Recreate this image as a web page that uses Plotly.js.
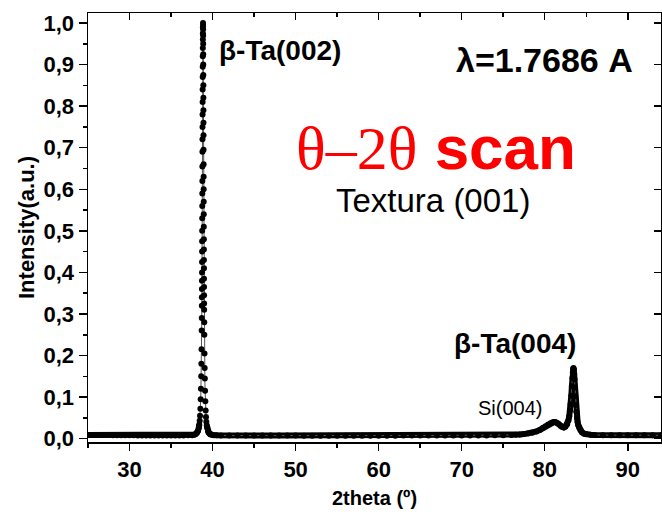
<!DOCTYPE html>
<html>
<head>
<meta charset="utf-8">
<script src="https://cdn.plot.ly/plotly-3.0.1.min.js"></script>
<style>html,body{margin:0;padding:0;background:#fff;}#plot{width:662px;height:516px;}</style>
</head>
<body>
<div id="plot"></div>
<script>
// 2theta (deg)
var twoTheta = [
 25,25.5,26,26.5,27,27.5,28,28.5,29,29.5,30,30.5,31,31.5,32,32.5,33,33.5,34,34.5,35,35.5,36,36.5,37.05,37.55,37.85,38.0,38.15,38.25,38.35,38.4,38.45,38.49,38.53,38.57,38.6,38.63,38.65,38.67,38.69,38.70,38.71,38.715,38.72,38.725,38.73,38.735,38.74,38.745,38.75,38.755,38.76,38.765,38.77,38.775,38.78,38.785,38.79,38.795,38.80,38.805,38.81,38.815,38.82,38.825,38.83,38.835,38.84,38.85,
 38.855,38.86,38.865,38.87,38.875,38.88,38.885,38.89,38.895,38.90,38.905,38.91,38.915,38.92,38.925,38.93,38.935,38.94,38.945,38.95,38.955,38.96,38.965,38.97,38.975,38.98,38.985,38.99,39.0,39.01,39.03,39.05,39.07,39.10,39.13,39.17,39.21,39.25,39.30,39.35,39.45,39.55,39.70,39.85,40.15,40.5,
 41,42,43,44,45,46,47,48,49,50,51,52,53,54,55,56,57,58,59,60,61,62,63,64,65,66,67,68,69,70,71,72,73,74,75,
 76,76.5,77,77.5,78,78.5,79,79.4,79.8,80.1,80.4,80.7,80.9,81.1,81.3,81.5,81.7,81.9,82.1,82.3,82.5,82.7,82.85,82.95,83.05,83.12,83.2,83.27,83.33,83.38,83.42,83.46,83.5,83.54,83.58,83.63,83.68,83.74,83.8,83.88,83.96,84.05,84.15,84.3,84.5,84.75,85.0,85.5,86,87,88,89,90,91,92,93,94
];
// normalised intensity (a.u.)
var intensity = [
 0.0090,0.0090,0.0089,0.0088,0.0087,0.0086,0.0085,0.0084,0.0083,0.0082,0.0081,0.0080,0.0079,0.0078,0.0077,0.0076,0.0075,0.0075,0.0074,0.0074,0.0074,0.0075,0.0077,0.0079,0.0080,0.0085,0.010,0.012,0.015,0.019,0.027,0.034,0.043,0.055,0.072,0.095,0.12,0.15,0.18,0.215,0.26,0.29,0.32,0.34,0.36,0.38,0.40,0.425,0.45,0.475,0.50,0.53,0.56,0.59,0.62,0.655,0.69,0.72,0.75,0.78,0.81,0.84,0.87,0.895,0.92,0.94,0.96,0.975,0.99,1.0,
 0.995,0.985,0.97,0.95,0.925,0.90,0.875,0.85,0.82,0.79,0.76,0.73,0.695,0.66,0.63,0.60,0.57,0.54,0.51,0.48,0.455,0.43,0.41,0.385,0.365,0.345,0.325,0.31,0.28,0.25,0.205,0.17,0.145,0.115,0.09,0.068,0.052,0.041,0.032,0.026,0.018,0.014,0.011,0.0095,0.0085,0.0080,
 0.0077,0.0076,0.0076,0.0075,0.0075,0.0075,0.0074,0.0074,0.0074,0.0074,0.0073,0.0073,0.0073,0.0073,0.0073,0.0073,0.0073,0.0073,0.0073,0.0073,0.0073,0.0073,0.0074,0.0074,0.0074,0.0074,0.0074,0.0075,0.0075,0.0076,0.0077,0.0078,0.0079,0.0080,0.0082,
 0.0088,0.0093,0.0100,0.011,0.0125,0.0145,0.0175,0.021,0.026,0.030,0.034,0.037,0.039,0.040,0.0395,0.038,0.035,0.031,0.028,0.027,0.029,0.035,0.044,0.054,0.068,0.083,0.103,0.126,0.146,0.160,0.168,0.170,0.167,0.157,0.143,0.123,0.102,0.081,0.065,0.050,0.040,0.032,0.026,0.020,0.015,0.012,0.0105,0.0093,0.0088,0.0085,0.0083,0.0082,0.0082,0.0081,0.0081,0.0080,0.0080
];
var yTicks = [0,0.1,0.2,0.3,0.4,0.5,0.6,0.7,0.8,0.9,1.0];
var xTicks = [30,40,50,60,70,80,90];

// thick band for the dense baseline / second peak region
var yThick = intensity.map(function(v,i){ return (twoTheta[i] > 38.4 && twoTheta[i] < 39.3) ? null : v; });

var traces = [
  {x: twoTheta, y: yThick, mode: 'lines', line: {color: '#000', width: 6}, connectgaps: false, hoverinfo: 'skip', showlegend: false},
  {x: twoTheta, y: intensity, mode: 'lines+markers', line: {color: '#555', width: 1}, marker: {color: '#000', size: 6}, showlegend: false},
  {x: [], y: [], xaxis: 'x2', yaxis: 'y2', showlegend: false}
];

var FONT = 'Liberation Sans, Arial, sans-serif';
var tickFont = {family: FONT, size: 22, color: '#000', weight: 'bold'};
var layout = {
  width: 662, height: 516,
  margin: {l: 88, r: 1, t: 13, b: 74},
  paper_bgcolor: '#fff', plot_bgcolor: '#fff',
  separators: ',.',
  showlegend: false,
  xaxis: {
    range: [25, 94], tickvals: xTicks, ticktext: xTicks.map(String),
    ticks: 'outside', ticklen: 7, tickwidth: 1.5, tickcolor: '#000',
    minor: {ticks: 'outside', ticklen: 4, tickwidth: 1.5, tickcolor: '#000', dtick: 5, tick0: 25, showgrid: false},
    showline: true, linewidth: 1.5, linecolor: '#000', showgrid: false, zeroline: false,
    tickfont: tickFont,
    title: {text: '<b>2theta (º)</b>', font: {family: FONT, size: 20, color: '#000'}, standoff: 10}
  },
  yaxis: {
    range: [-0.008, 1.024], tickvals: yTicks, ticktext: yTicks.map(function(v){return v.toFixed(1).replace('.', ',');}),
    ticks: 'outside', ticklen: 8, tickwidth: 1.5, tickcolor: '#000',
    minor: {ticks: 'outside', ticklen: 4, tickwidth: 1.5, tickcolor: '#000', dtick: 0.05, tick0: 0, showgrid: false},
    showline: true, linewidth: 1.5, linecolor: '#000', showgrid: false, zeroline: false,
    tickfont: tickFont,
    title: {text: '<b>Intensity(a.u.)</b>', font: {family: FONT, size: 22, color: '#000'}, standoff: 3}
  },
  xaxis2: {
    overlaying: 'x', side: 'top', anchor: 'y', range: [25, 94], tickvals: xTicks, showticklabels: false,
    ticks: 'inside', ticklen: 7, tickwidth: 1.5, tickcolor: '#000',
    minor: {ticks: 'inside', ticklen: 4, tickwidth: 1.5, tickcolor: '#000', dtick: 5, tick0: 25, showgrid: false},
    showline: true, linewidth: 1.5, linecolor: '#000', showgrid: false, zeroline: false
  },
  yaxis2: {
    overlaying: 'y', side: 'right', anchor: 'x', range: [-0.008, 1.024], tickvals: yTicks, showticklabels: false,
    ticks: 'inside', ticklen: 7, tickwidth: 1.5, tickcolor: '#000',
    showline: true, linewidth: 1.5, linecolor: '#000', showgrid: false, zeroline: false
  },
  annotations: [
    {x: 48.1, y: 0.934, xref: 'x', yref: 'y', showarrow: false, xanchor: 'center', yanchor: 'middle',
     text: '<b>β-Ta(002)</b>', font: {family: FONT, size: 28, color: '#000'}},
    {x: 80.0, y: 0.910, xref: 'x', yref: 'y', showarrow: false, xanchor: 'center', yanchor: 'middle',
     text: '<b>λ=1.7686 A</b>', font: {family: FONT, size: 34, color: '#000'}},
    {x: 66.9, y: 0.700, xref: 'x', yref: 'y', showarrow: false, xanchor: 'center', yanchor: 'middle',
     text: '<span style="font-family:Liberation Serif, Times New Roman, serif">θ–2θ</span> <b>scan</b>', font: {family: FONT, size: 62, color: '#ff0000'}},
    {x: 66.6, y: 0.573, xref: 'x', yref: 'y', showarrow: false, xanchor: 'center', yanchor: 'middle',
     text: 'Textura (001)', font: {family: FONT, size: 33, color: '#000'}},
    {x: 76.4, y: 0.229, xref: 'x', yref: 'y', showarrow: false, xanchor: 'center', yanchor: 'middle',
     text: '<b>β-Ta(004)</b>', font: {family: FONT, size: 28, color: '#000'}},
    {x: 75.8, y: 0.075, xref: 'x', yref: 'y', showarrow: false, xanchor: 'center', yanchor: 'middle',
     text: 'Si(004)', font: {family: FONT, size: 20, color: '#000'}}
  ]
};
Plotly.newPlot('plot', traces, layout, {displayModeBar: false, staticPlot: true});
</script>
</body>
</html>
